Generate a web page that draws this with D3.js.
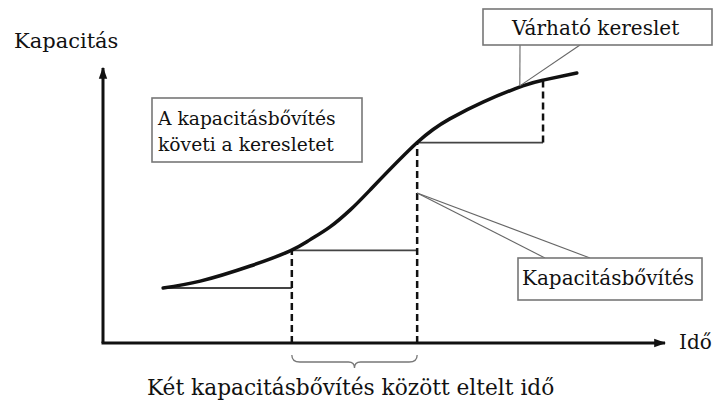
<!DOCTYPE html>
<html>
<head>
<meta charset="utf-8">
<script src="https://cdn.jsdelivr.net/npm/d3@7"></script>
<style>
  body { margin: 0; background: #fff; }
  svg text { font-family: "DejaVu Serif", serif; fill: #111; }
</style>
</head>
<body>
<div id="chart"></div>
<script>
// demand curve (time, capacity)
var demandTime = [1.07, 1.73, 2.62, 3.33, 3.68, 4.04, 4.40, 4.75, 5.59, 6.17, 6.76, 7.47, 7.83, 8.43];
var demandCap  = [2.00, 2.25, 2.80, 3.35, 3.75, 4.22, 4.84, 5.56, 7.29, 8.15, 8.76, 9.35, 9.56, 9.82];

// capacity steps: start time, end time, level
var stepStart = [1.07, 3.36, 5.59];
var stepEnd   = [3.36, 5.59, 7.83];
var stepLevel = [2.00, 3.37, 7.29];

// expansions: time, from level, to level
var expTime = [3.36, 5.59, 7.83];
var expFrom = [0, 0, 7.29];
var expTo   = [3.37, 7.29, 9.56];

var labels = {
  yAxis: "Kapacitás",
  xAxis: "Idő",
  demand: "Várható kereslet",
  follow: ["A kapacitásbővítés", "követi a keresletet"],
  expansion: "Kapacitásbővítés",
  between: "Két kapacitásbővítés között eltelt idő"
};

var width = 715, height = 404;

var x = d3.scaleLinear().domain([0, 10]).range([103, 665]);
var y = d3.scaleLinear().domain([0, 10]).range([343, 68]);

var svg = d3.select("#chart").append("svg")
    .attr("width", width)
    .attr("height", height);

// arrow heads
svg.append("defs").append("marker")
    .attr("id", "arrow")
    .attr("viewBox", "0 0 10 10")
    .attr("refX", 9).attr("refY", 5)
    .attr("markerWidth", 4).attr("markerHeight", 4)
    .attr("orient", "auto")
  .append("path")
    .attr("d", "M0,1.5 L10,5 L0,8.5 Z")
    .attr("fill", "#111");

// axes
svg.append("line")
    .attr("x1", x(0)).attr("y1", y(0))
    .attr("x2", x(0)).attr("y2", y(10))
    .attr("stroke", "#111").attr("stroke-width", 3)
    .attr("marker-end", "url(#arrow)");
svg.append("line")
    .attr("x1", x(0) - 1.5).attr("y1", y(0))
    .attr("x2", x(10)).attr("y2", y(0))
    .attr("stroke", "#111").attr("stroke-width", 3)
    .attr("marker-end", "url(#arrow)");

svg.append("text").attr("x", 14).attr("y", 48)
    .attr("font-size", 21).text(labels.yAxis);
svg.append("text").attr("x", x(10) + 14).attr("y", y(0) + 6)
    .attr("font-size", 20).text(labels.xAxis);

// capacity steps
svg.selectAll(".step").data(stepLevel).enter().append("line")
    .attr("class", "step")
    .attr("x1", function(d, i) { return x(stepStart[i]); })
    .attr("x2", function(d, i) { return x(stepEnd[i]); })
    .attr("y1", function(d) { return y(d); })
    .attr("y2", function(d) { return y(d); })
    .attr("stroke", "#444").attr("stroke-width", 1.8);

svg.selectAll(".exp").data(expTime).enter().append("line")
    .attr("class", "exp")
    .attr("x1", function(d) { return x(d); })
    .attr("x2", function(d) { return x(d); })
    .attr("y1", function(d, i) { return y(expFrom[i]); })
    .attr("y2", function(d, i) { return y(expTo[i]); })
    .attr("stroke", "#111").attr("stroke-width", 2.5)
    .attr("stroke-dasharray", "7,4");

// demand curve
var line = d3.line()
    .x(function(d, i) { return x(demandTime[i]); })
    .y(function(d) { return y(d); })
    .curve(d3.curveNatural);

svg.append("path")
    .datum(demandCap)
    .attr("d", line)
    .attr("fill", "none")
    .attr("stroke", "#111")
    .attr("stroke-width", 3.5)
    .attr("stroke-linecap", "round");

// callout boxes
function box(x0, y0, x1, y1) {
  svg.append("rect")
      .attr("x", x0).attr("y", y0)
      .attr("width", x1 - x0).attr("height", y1 - y0)
      .attr("fill", "#fff")
      .attr("stroke", "#777").attr("stroke-width", 1.6);
}
function thin(x1, y1, x2, y2) {
  svg.append("line")
      .attr("x1", x1).attr("y1", y1).attr("x2", x2).attr("y2", y2)
      .attr("stroke", "#666").attr("stroke-width", 1.1);
}

// Várható kereslet
var demandX = x(demandTime[11]) - 3, demandY = y(demandCap[11]);
thin(520, 45, demandX, demandY);
thin(580, 45, demandX, demandY);
box(483, 9, 712, 45);
svg.append("text").attr("x", 512).attr("y", 35)
    .attr("font-size", 20).text(labels.demand);

// A kapacitásbővítés követi a keresletet
box(152, 98, 362, 162);
svg.selectAll(".follow").data(labels.follow).enter().append("text")
    .attr("class", "follow")
    .attr("x", 158)
    .attr("y", function(d, i) { return 125 + i * 26; })
    .attr("font-size", 18.7)
    .text(function(d) { return d; });

// Kapacitásbővítés
var expX = x(expTime[1]), expY = 193;
thin(expX, expY, 545, 258);
thin(expX, expY, 590, 258);
box(518, 258, 702, 300);
svg.append("text").attr("x", 522).attr("y", 285)
    .attr("font-size", 20).text(labels.expansion);

// brace between two expansions
var bx0 = x(expTime[0]), bx1 = x(expTime[1]), bm = (bx0 + bx1) / 2;
svg.append("path")
    .attr("d", "M" + bx0 + ",355 Q" + bx0 + ",362 " + (bx0 + 8) + ",362 L" + (bm - 6) + ",362 Q" + bm + ",362 " + bm + ",368"
        + " Q" + bm + ",362 " + (bm + 6) + ",362 L" + (bx1 - 8) + ",362 Q" + bx1 + ",362 " + bx1 + ",355")
    .attr("fill", "none")
    .attr("stroke", "#777").attr("stroke-width", 1.3);

svg.append("text").attr("x", 147).attr("y", 395)
    .attr("font-size", 21.7).text(labels.between);
</script>
</body>
</html>
